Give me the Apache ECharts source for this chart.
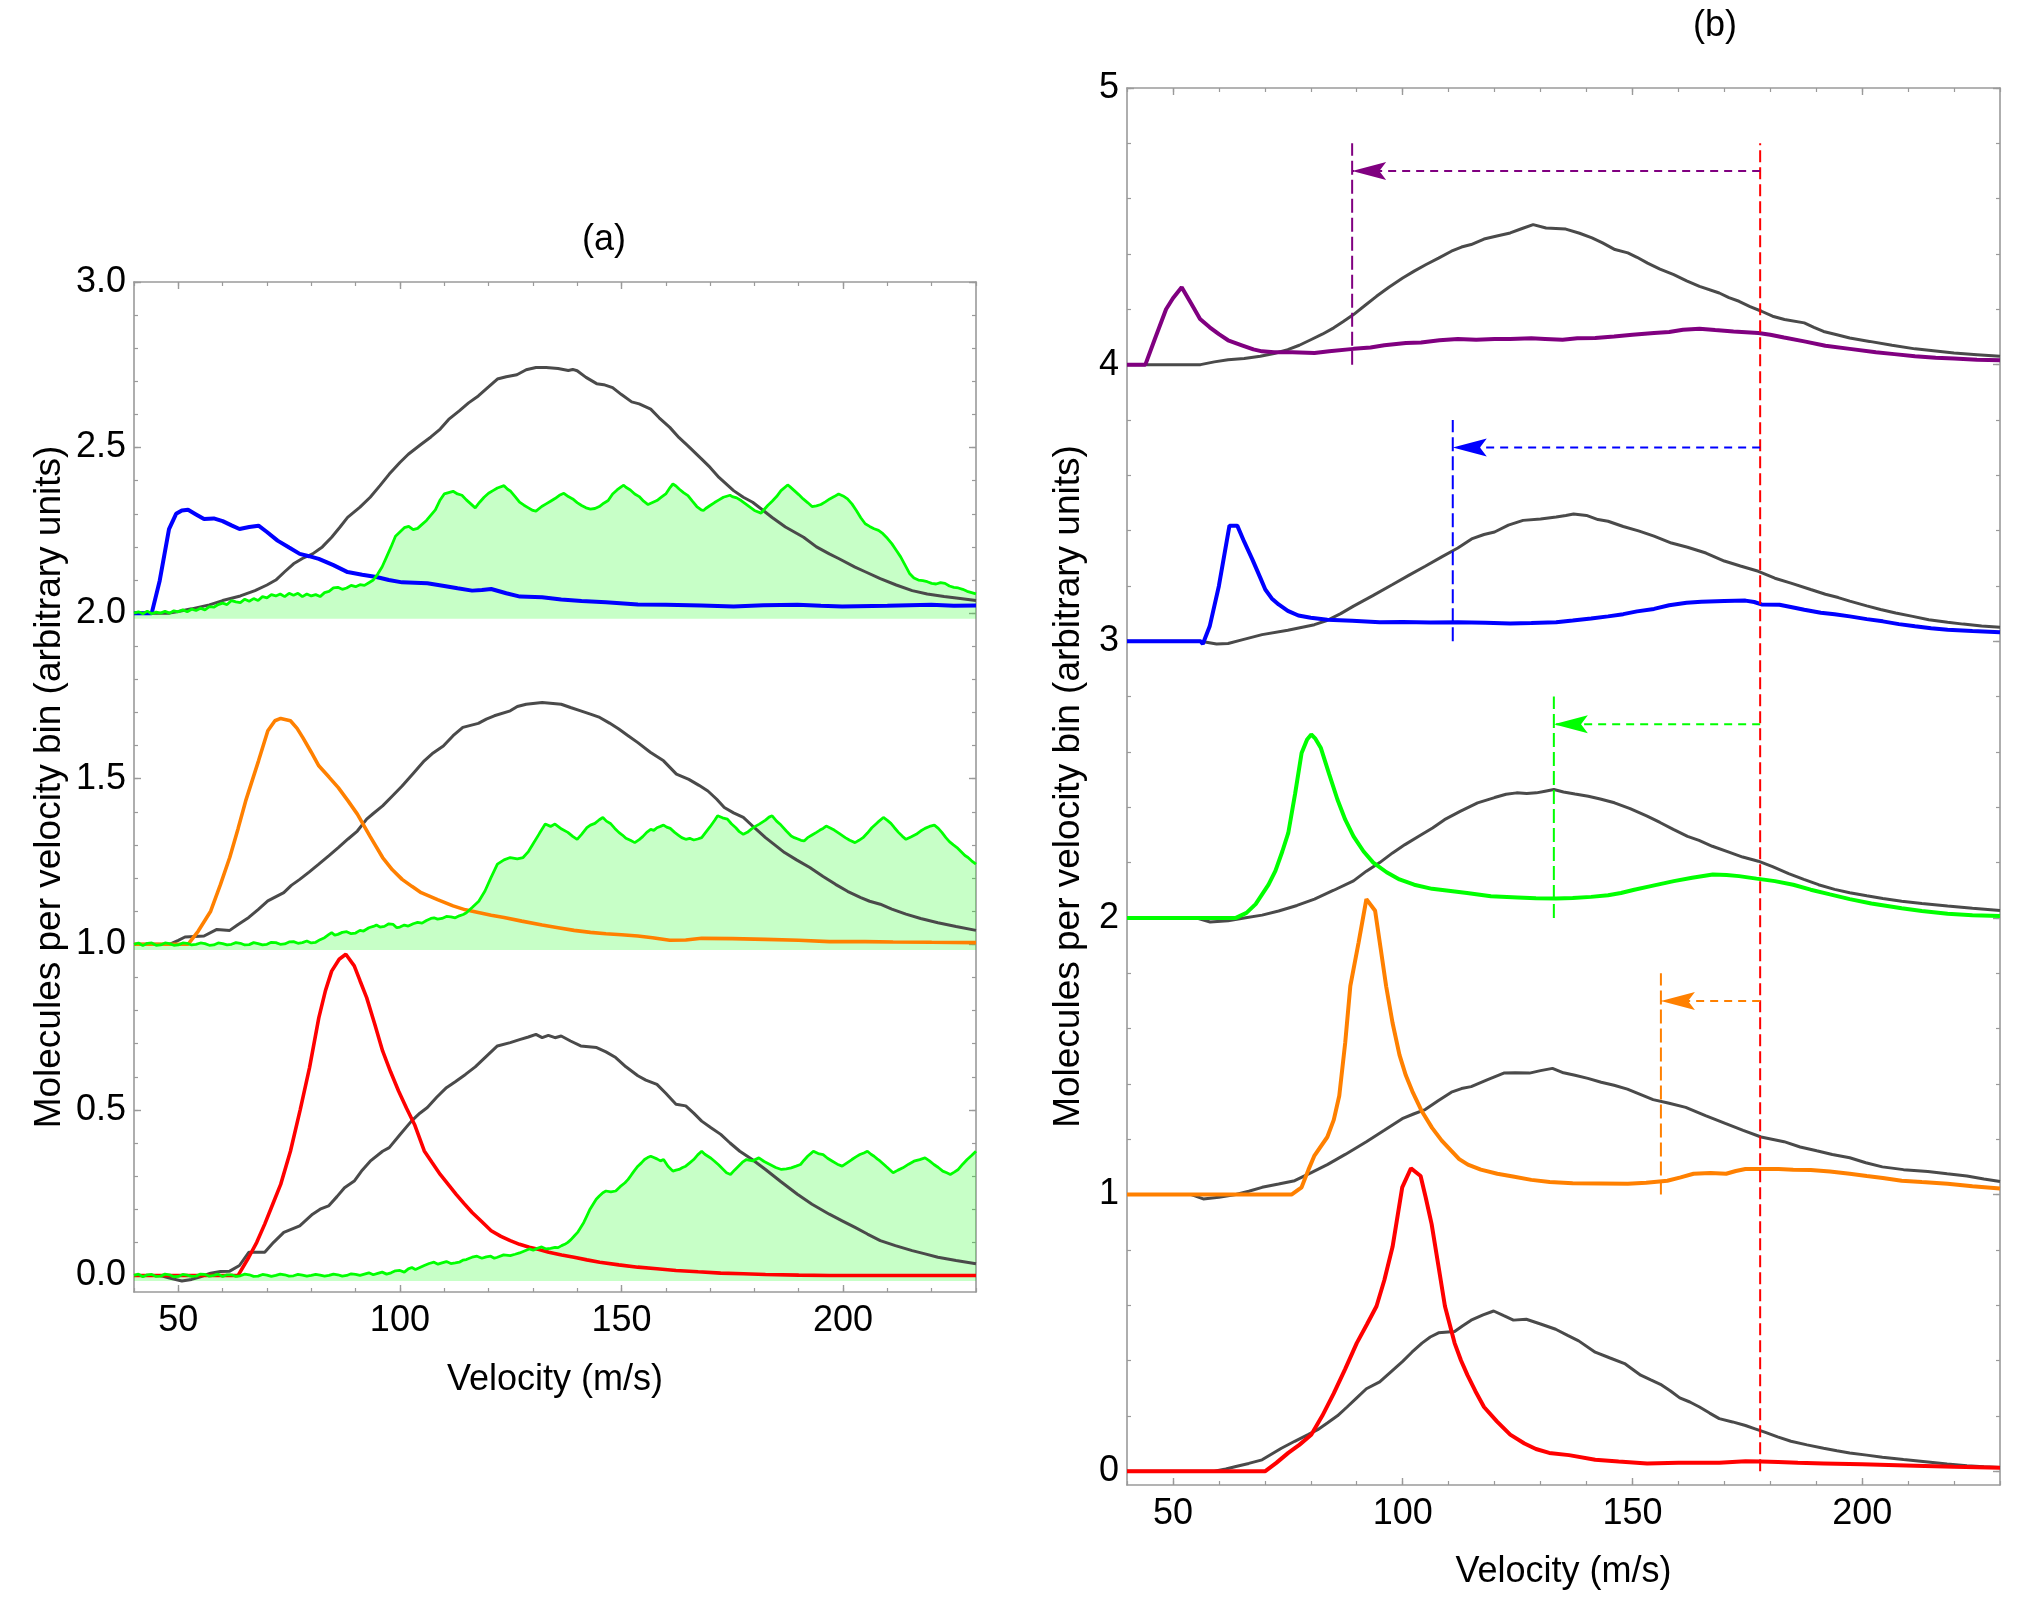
<!DOCTYPE html>
<html>
<head>
<meta charset="utf-8">
<title>Velocity distributions (a) and (b)</title>
<script src="https://cdn.jsdelivr.net/npm/echarts@6/dist/echarts.min.js"></script>
<style>
  html, body { margin: 0; padding: 0; background: #fff; }
  #chart { width: 2025px; height: 1600px; }
</style>
</head>
<body>
<div id="chart"></div>
<script>
// tick labels
const velTicks = [50, 100, 150, 200];
const aYTicks = [0, 0.5, 1, 1.5, 2, 2.5, 3];
const bYTicks = [0, 1, 2, 3, 4, 5];

// ---------- panel (a), three groups stacked at offsets 2, 1, 0 ----------
const aGray2 = [[40,2],[48,2],[50,2.005],[53,2.013],[57,2.025],[60,2.038],[64,2.052],[67.3,2.068],[70,2.085],[72,2.1],[74,2.125],[76,2.149],[78,2.165],[80.3,2.179],[82.5,2.2],[84.6,2.229],[86.5,2.26],[88.2,2.289],[91,2.32],[93.3,2.35],[95.5,2.385],[97.6,2.42],[100,2.455],[101.9,2.48],[104.8,2.51],[107,2.532],[109.1,2.556],[111,2.585],[113.4,2.611],[115.5,2.635],[117.7,2.656],[120,2.683],[122,2.707],[124,2.714],[126.4,2.72],[128.5,2.735],[130.7,2.742],[133,2.742],[135.7,2.739],[138,2.733],[139,2.736],[140,2.732],[142,2.712],[144.4,2.693],[146,2.69],[148,2.681],[150,2.66],[152.3,2.638],[154,2.632],[156.6,2.616],[158.5,2.59],[160.9,2.561],[163,2.53],[165,2.505],[168.1,2.465],[170,2.44],[172,2.41],[175.3,2.37],[177.5,2.35],[179.6,2.335],[182,2.31],[184,2.289],[187,2.26],[191.1,2.229],[194,2.2],[196.9,2.179],[199,2.165],[202.7,2.139],[205,2.125],[208.4,2.104],[212,2.085],[215.6,2.068],[219,2.058],[222.8,2.05],[226,2.045],[230,2.038]];
const aBlue = [[40,2],[44,2],[45.8,2.098],[47.9,2.254],[49.5,2.3],[50.8,2.31],[52.2,2.312],[54,2.298],[55.8,2.284],[58,2.286],[60,2.278],[62,2.265],[63.8,2.254],[66,2.26],[68.1,2.264],[70,2.245],[72.4,2.219],[75,2.198],[77.4,2.179],[79.5,2.172],[81.7,2.164],[85,2.145],[88.2,2.124],[91.5,2.116],[94.7,2.109],[97.5,2.1],[100.5,2.093],[106.2,2.09],[110,2.082],[113,2.075],[116.3,2.068],[118.5,2.07],[120.6,2.073],[124,2.06],[127.1,2.05],[132.1,2.048],[136.4,2.041],[141,2.037],[146.5,2.033],[153.7,2.026],[160,2.025],[168.1,2.023],[175.3,2.02],[182,2.024],[189.7,2.025],[195,2.022],[199.8,2.02],[210,2.022],[219.9,2.025],[225,2.022],[230,2.023]];
const aGreen2 = [[40,2.0],[41,2.004],[42,1.998],[43,2.006],[44,1.998],[45,2.003],[46,2.0],[47,2.006],[48,2.0],[49,2.007],[50,2.004],[51,2.01],[52,2.004],[53,2.012],[54,2.008],[55,2.015],[56,2.01],[57,2.02],[58,2.018],[59,2.026],[60,2.03],[61,2.026],[62,2.038],[63,2.034],[64,2.032],[65,2.042],[66,2.036],[67,2.044],[68,2.038],[69,2.05],[70,2.046],[71,2.056],[72,2.052],[73,2.058],[74,2.05],[75,2.06],[76,2.054],[77,2.06],[78,2.05],[79,2.058],[80,2.052],[81,2.056],[82,2.05],[83,2.062],[84,2.066],[85,2.076],[86,2.078],[87,2.072],[88,2.076],[89,2.084],[90,2.08],[91,2.086],[92,2.084],[93,2.092],[94,2.1],[95,2.118],[96,2.14],[97,2.17],[98,2.2],[99,2.232],[100,2.245],[101,2.258],[102,2.262],[103,2.252],[104,2.256],[105,2.268],[106,2.28],[107,2.296],[108,2.312],[109,2.34],[110,2.36],[111,2.364],[112,2.368],[113,2.36],[114,2.356],[115,2.342],[116,2.33],[117,2.318],[118,2.335],[119,2.35],[120,2.362],[121,2.37],[122,2.378],[123.5,2.385],[124.3,2.374],[125,2.368],[126,2.352],[127,2.335],[128,2.326],[129,2.318],[130,2.31],[130.7,2.308],[132,2.322],[133,2.33],[134,2.338],[135,2.346],[136,2.356],[137,2.362],[138,2.352],[139,2.345],[140,2.334],[141,2.325],[142,2.318],[143,2.314],[144,2.316],[145,2.322],[146,2.332],[147,2.34],[148,2.36],[149,2.372],[150,2.382],[150.5,2.386],[151,2.38],[152,2.372],[153,2.36],[154,2.352],[155,2.338],[156,2.328],[157,2.334],[158,2.34],[159,2.35],[160,2.36],[161,2.38],[161.6,2.39],[162.3,2.384],[163,2.375],[164,2.364],[165,2.355],[166,2.338],[167,2.322],[168,2.312],[168.5,2.31],[169,2.316],[170,2.325],[171,2.334],[172,2.342],[173,2.35],[174.5,2.356],[175,2.352],[176,2.348],[177,2.34],[178,2.33],[179,2.32],[180,2.31],[181.5,2.302],[182,2.31],[183,2.325],[184,2.338],[185,2.352],[186,2.37],[187.5,2.387],[188,2.382],[189,2.37],[190,2.358],[191,2.345],[192,2.334],[193,2.322],[194,2.324],[195,2.328],[196,2.336],[197,2.345],[198,2.352],[199,2.36],[200,2.354],[201,2.345],[202,2.33],[203,2.31],[204,2.288],[205,2.27],[206,2.262],[207,2.255],[208,2.25],[209,2.24],[210,2.226],[211,2.21],[212,2.19],[213,2.17],[214,2.145],[215,2.12],[216,2.106],[217,2.1],[218,2.098],[219,2.095],[220,2.09],[221,2.088],[222,2.092],[223,2.09],[224,2.082],[225,2.078],[226,2.076],[227,2.072],[228,2.066],[229,2.062],[230,2.058]];

const aGray1 = [[40,1],[48,1],[50,1.012],[51.5,1.022],[55.8,1.025],[58.7,1.045],[61.6,1.042],[63.5,1.06],[65.9,1.081],[68,1.105],[70.2,1.131],[73.8,1.156],[75.5,1.178],[77.4,1.196],[79.5,1.218],[81.7,1.242],[84,1.268],[86.1,1.292],[88.3,1.318],[90.4,1.342],[92.5,1.378],[94,1.395],[96.1,1.418],[98.3,1.448],[100.5,1.478],[103,1.516],[105.5,1.554],[107.5,1.578],[109.8,1.599],[112,1.63],[114.2,1.655],[117.7,1.667],[119.5,1.68],[121.3,1.69],[124.9,1.705],[126.5,1.718],[128.5,1.725],[132.1,1.73],[136.4,1.725],[138.5,1.715],[140.8,1.705],[143,1.695],[145.1,1.685],[147.3,1.668],[149.4,1.65],[151.5,1.63],[153.7,1.609],[156.5,1.58],[159.5,1.554],[162.4,1.514],[165.2,1.498],[167.5,1.48],[169.5,1.463],[171.5,1.438],[173.2,1.413],[175.3,1.397],[177.5,1.383],[180,1.352],[182.5,1.322],[184.8,1.298],[186.8,1.277],[189.5,1.255],[192.5,1.232],[195.5,1.205],[198.3,1.181],[201,1.16],[204,1.141],[206,1.13],[208.4,1.121],[211,1.106],[214.2,1.091],[217.5,1.078],[221.4,1.065],[225.5,1.054],[230,1.042]];
const aOrange = [[40,1],[52.2,1],[54.5,1.04],[57.3,1.1],[59.5,1.18],[61.6,1.262],[63.5,1.35],[65.2,1.433],[68.1,1.554],[70.2,1.645],[71.8,1.675],[73.1,1.682],[75.3,1.675],[76.8,1.652],[78.1,1.624],[80,1.58],[81.7,1.539],[84,1.505],[86.1,1.473],[88.3,1.433],[90.4,1.393],[93.3,1.325],[96.1,1.262],[98.3,1.225],[100.5,1.196],[102.7,1.175],[104.8,1.156],[108.5,1.135],[112,1.116],[114.8,1.104],[117.7,1.096],[120.6,1.088],[123.5,1.081],[127.5,1.07],[132.1,1.058],[135.7,1.05],[139.3,1.042],[143,1.036],[146.5,1.032],[150,1.029],[153.7,1.025],[157,1.02],[160.9,1.012],[164.5,1.013],[168.1,1.018],[175,1.017],[182.5,1.015],[190,1.012],[196.9,1.008],[205,1.008],[211.3,1.007],[220,1.006],[230,1.005]];
const aGreen1 = [[40,1.0],[41,1.004],[42,0.996],[43,1.003],[44,1.004],[45,0.997],[46,0.998],[47,1.004],[48,1.002],[49,0.997],[50,0.998],[51,1.004],[52,1.003],[53,0.998],[54,1.0],[55,1.004],[56,1.002],[57,0.997],[58,0.998],[59,1.004],[60,1.002],[61,0.998],[62,1.0],[63,1.005],[64,1.003],[65,0.998],[66,0.999],[67,1.005],[68,1.002],[69,0.998],[70,1.0],[71,1.006],[72,1.005],[73,1.0],[74,1.001],[75,1.007],[76,1.008],[77,1.003],[78,1.005],[79,1.01],[80,1.004],[81,1.006],[82,1.014],[83,1.02],[84,1.03],[84.6,1.035],[85.3,1.028],[86,1.03],[87,1.036],[88,1.038],[89,1.032],[90,1.034],[91,1.042],[91.8,1.04],[93,1.05],[94,1.054],[94.7,1.058],[95.5,1.052],[96.5,1.054],[97.5,1.062],[98.5,1.06],[99.3,1.05],[100,1.052],[101,1.058],[101.9,1.055],[103,1.062],[104,1.066],[105,1.064],[106,1.072],[107,1.078],[107.7,1.08],[108.5,1.076],[109.5,1.078],[110.5,1.084],[111.5,1.083],[112.5,1.08],[113.4,1.086],[114.3,1.09],[115,1.095],[116.3,1.111],[117.8,1.13],[119.2,1.161],[120.5,1.2],[122,1.242],[123.5,1.255],[124.9,1.262],[126.5,1.258],[127.8,1.262],[129,1.28],[130,1.302],[131.5,1.335],[132.8,1.363],[134,1.356],[135,1.363],[136.5,1.348],[137.9,1.338],[139,1.326],[140,1.317],[141,1.332],[142.2,1.352],[143,1.36],[144,1.365],[145,1.376],[145.8,1.383],[146.6,1.372],[147.5,1.365],[148.5,1.35],[149.4,1.338],[150.2,1.33],[151,1.32],[152,1.314],[153,1.307],[154,1.316],[154.8,1.325],[155.7,1.338],[156.6,1.347],[157.3,1.344],[158,1.352],[158.8,1.356],[159.5,1.36],[160.2,1.354],[161,1.35],[162,1.338],[162.8,1.33],[163.6,1.322],[164.5,1.317],[165.4,1.32],[166.3,1.315],[167.2,1.318],[168.1,1.322],[169,1.338],[170,1.355],[171,1.374],[171.7,1.388],[172.8,1.382],[173.9,1.378],[174.8,1.364],[175.8,1.352],[176.6,1.34],[177.5,1.332],[178.4,1.338],[179.3,1.348],[180.2,1.356],[181.1,1.363],[182.5,1.375],[183.3,1.384],[184,1.388],[185,1.372],[186,1.36],[187.2,1.342],[188.3,1.327],[189,1.322],[189.8,1.318],[190.5,1.314],[191.2,1.312],[192,1.322],[193,1.33],[194,1.338],[194.8,1.345],[195.5,1.35],[196.2,1.357],[197,1.352],[198,1.345],[199.2,1.334],[200.5,1.322],[201.5,1.314],[202.7,1.307],[203.6,1.314],[204.5,1.322],[205.5,1.336],[206.5,1.352],[207.8,1.368],[209.1,1.383],[210,1.374],[210.8,1.365],[211.6,1.352],[212.5,1.338],[213.4,1.326],[214.2,1.317],[215.3,1.324],[216.5,1.332],[217.5,1.342],[218.5,1.35],[219.5,1.356],[220.6,1.36],[221.5,1.35],[222.3,1.338],[223.2,1.322],[224,1.31],[224.9,1.3],[225.7,1.292],[226.6,1.28],[227.5,1.268],[228.2,1.262],[229,1.252],[230,1.242]];

const aGray0 = [[40,0],[46,0],[48,-0.008],[50.8,-0.017],[53,-0.012],[55,-0.004],[57.3,0.007],[59.5,0.012],[61.6,0.013],[63.8,0.03],[65.9,0.07],[69.5,0.07],[71.5,0.1],[73.8,0.13],[77.4,0.15],[80.3,0.185],[82,0.2],[83.9,0.21],[85.8,0.238],[87.5,0.265],[89.7,0.285],[91.5,0.318],[93.3,0.345],[96.1,0.375],[97.6,0.386],[100,0.425],[102.6,0.466],[104.5,0.49],[106.2,0.507],[108.3,0.538],[110.5,0.567],[112.5,0.585],[114.8,0.607],[117,0.63],[119.2,0.658],[122,0.693],[124.9,0.703],[127,0.712],[129,0.72],[130.7,0.728],[132.1,0.718],[133.5,0.725],[135,0.718],[136.4,0.723],[138.5,0.708],[140.8,0.693],[144.4,0.688],[146.5,0.675],[148.7,0.658],[151,0.63],[153.7,0.603],[155.5,0.59],[158,0.577],[160,0.55],[162.3,0.517],[164.5,0.512],[166.3,0.49],[168.1,0.466],[170.2,0.446],[172.4,0.426],[174.5,0.4],[176.7,0.375],[179.5,0.35],[182.5,0.32],[186,0.283],[189.7,0.245],[193,0.215],[196.9,0.185],[199.8,0.165],[202.7,0.145],[205.5,0.125],[208.4,0.105],[211.8,0.09],[215.6,0.075],[218.5,0.065],[221.4,0.055],[225.5,0.045],[230,0.035]];
const aRed = [[40,0],[63.5,0],[65.9,0.055],[67.7,0.1],[69.5,0.155],[71.3,0.215],[73.1,0.275],[75.3,0.375],[77.5,0.5],[79.6,0.627],[81.7,0.778],[83.2,0.86],[84.6,0.919],[86.3,0.955],[87.8,0.97],[89.7,0.935],[91,0.89],[92.5,0.839],[94.3,0.76],[96.1,0.678],[97.9,0.615],[99.7,0.557],[101.5,0.505],[103.3,0.456],[105.5,0.376],[107.3,0.34],[109.1,0.305],[110.9,0.275],[112.7,0.245],[114.5,0.217],[116.3,0.19],[118.5,0.162],[120.6,0.135],[122.8,0.118],[124.9,0.105],[127,0.094],[129.2,0.085],[131.4,0.078],[133.6,0.07],[136.5,0.062],[139.3,0.055],[142.2,0.047],[145.1,0.04],[149.4,0.032],[153.7,0.025],[158,0.02],[162.3,0.015],[167.3,0.011],[172.4,0.007],[177.5,0.005],[182.5,0.003],[190,0.001],[196.9,0],[230,0]];
const aGreen0 = [[40,0.0],[41,0.004],[42,-0.004],[43,0.002],[44,0.003],[45,-0.003],[46,-0.002],[47,0.004],[48,0.002],[49,-0.004],[50,-0.003],[51,0.003],[52,0.001],[53,-0.003],[54,-0.002],[55,0.004],[56,0.003],[57,-0.002],[58,0],[59,0.004],[60,-0.003],[61,0.002],[62,0.002],[63,-0.003],[64,-0.001],[65,0.004],[66,0.002],[67,-0.003],[68,-0.002],[69,0.003],[70,0.001],[71,-0.003],[72,0],[73,0.004],[74,0.002],[75,-0.002],[76,-0.001],[77,0.003],[78,0.001],[79,-0.002],[80,0],[81,0.003],[82,0.001],[83,-0.002],[84,0],[85,0.004],[86,0.002],[87,-0.002],[88,0],[89,0.005],[90,0.003],[91,0.0],[92,0.004],[93,0.008],[94,0.002],[95,0.006],[96,0.01],[97,0.004],[98,0.008],[99,0.014],[100,0.015],[101,0.01],[101.9,0.02],[102.7,0.024],[103.5,0.018],[104.5,0.024],[105.5,0.03],[106.6,0.036],[107.7,0.04],[108.6,0.034],[109.5,0.038],[110.5,0.042],[111.5,0.036],[112.5,0.038],[113.4,0.04],[114.2,0.046],[115,0.048],[115.7,0.052],[116.3,0.055],[117.4,0.058],[118.5,0.052],[119.5,0.056],[120.5,0.058],[121.3,0.052],[122,0.055],[123.4,0.062],[124.9,0.06],[126,0.064],[127,0.068],[128.1,0.074],[129.2,0.08],[130.1,0.076],[131,0.082],[132,0.086],[133,0.08],[134,0.082],[135,0.085],[135.7,0.084],[136.5,0.09],[137.2,0.094],[137.9,0.1],[138.6,0.108],[139.4,0.12],[140.1,0.13],[140.8,0.145],[141.5,0.16],[142.2,0.18],[142.9,0.2],[143.6,0.215],[144.3,0.23],[145,0.24],[145.8,0.25],[146.5,0.255],[147.6,0.252],[148.7,0.255],[149.7,0.268],[150.8,0.28],[151.5,0.29],[152.3,0.305],[153,0.318],[153.7,0.33],[154.5,0.34],[155.2,0.35],[155.9,0.356],[156.6,0.36],[157.3,0.356],[158,0.352],[158.8,0.346],[159.5,0.35],[160.5,0.33],[161.6,0.315],[162.3,0.318],[163,0.32],[163.8,0.326],[164.5,0.33],[165.4,0.34],[166.3,0.35],[167.2,0.364],[168.1,0.375],[168.8,0.366],[169.5,0.36],[170.2,0.354],[171,0.345],[171.9,0.334],[172.8,0.322],[173.7,0.31],[174.6,0.305],[175.5,0.318],[176.4,0.33],[177.3,0.342],[178.2,0.35],[179.6,0.346],[181,0.355],[182.2,0.344],[183.5,0.335],[184.8,0.326],[186.1,0.32],[187.2,0.322],[188.3,0.325],[189.4,0.33],[190.4,0.335],[191.2,0.348],[192,0.36],[192.7,0.368],[193.3,0.375],[194.4,0.368],[195.5,0.365],[196.5,0.354],[197.6,0.345],[198.7,0.336],[199.8,0.33],[200.9,0.34],[202,0.35],[202.9,0.358],[203.8,0.365],[204.7,0.37],[205.5,0.375],[206.3,0.366],[207,0.36],[207.7,0.352],[208.4,0.345],[209.8,0.328],[211.3,0.31],[212.4,0.318],[213.5,0.325],[214.8,0.336],[216,0.345],[217.3,0.35],[218.5,0.355],[219.5,0.346],[220.5,0.335],[221.5,0.326],[222.5,0.315],[223.4,0.31],[224.2,0.305],[225.1,0.312],[226,0.32],[227,0.336],[228,0.35],[229,0.362],[230,0.375]];

// ---------- panel (b), five groups stacked at offsets 4..0 ----------
const bGray4 = [[40,4],[56,4],[59,4.01],[62,4.018],[65.5,4.022],[69,4.03],[72,4.04],[75,4.054],[77.5,4.07],[80,4.09],[82.5,4.11],[85,4.133],[87,4.155],[89.3,4.181],[91.5,4.21],[94.3,4.247],[97,4.28],[100,4.313],[102.5,4.338],[105,4.361],[107.8,4.385],[110.6,4.41],[112.8,4.425],[114.9,4.434],[117.7,4.454],[120.5,4.465],[123.4,4.476],[126,4.492],[128.4,4.506],[131.2,4.494],[135.5,4.49],[138.5,4.475],[141.2,4.458],[143.5,4.44],[146.2,4.416],[149,4.404],[151,4.388],[153.3,4.367],[156,4.345],[159,4.325],[161.8,4.303],[164.6,4.283],[168.9,4.259],[171,4.242],[173.2,4.229],[175.6,4.21],[178.1,4.193],[180.5,4.175],[183.1,4.163],[187.4,4.151],[189.5,4.135],[191.6,4.12],[194.5,4.108],[197.3,4.096],[201.6,4.084],[206.5,4.07],[211.5,4.057],[215.5,4.05],[220,4.042],[225,4.036],[230,4.03]];
const bPurple = [[40,4],[44,4],[46,4.09],[48.5,4.2],[50,4.24],[51.9,4.28],[54,4.22],[55.9,4.165],[58,4.135],[60,4.11],[62,4.088],[65,4.07],[67.5,4.055],[69.4,4.048],[72,4.045],[76,4.045],[80.8,4.042],[84,4.048],[89.3,4.057],[93,4.062],[96,4.07],[100.7,4.078],[104,4.08],[108,4.088],[112,4.093],[116,4.09],[120,4.093],[123.4,4.093],[128,4.095],[131,4.093],[134.8,4.09],[138,4.095],[141.9,4.096],[146,4.102],[150,4.108],[154.7,4.114],[158,4.118],[161,4.126],[164.6,4.13],[168,4.125],[172,4.12],[177.4,4.114],[180,4.108],[183,4.098],[187.4,4.084],[192,4.068],[197.3,4.057],[203,4.045],[207,4.038],[211.5,4.03],[216,4.025],[220,4.022],[225,4.018],[230,4.016]];
const bGray3 = [[40,3],[56,3],[59.5,2.99],[62,2.992],[65,3.005],[69.4,3.024],[75,3.04],[80.8,3.06],[83.5,3.075],[86.5,3.1],[89.3,3.127],[93.5,3.165],[97.8,3.205],[101.5,3.24],[104.9,3.271],[108.5,3.305],[112,3.337],[115,3.37],[117.7,3.386],[120,3.395],[123,3.42],[126.2,3.437],[130,3.442],[133.4,3.449],[135.5,3.455],[137.2,3.46],[140,3.455],[142.5,3.44],[144.7,3.434],[148,3.415],[151.5,3.398],[154.7,3.38],[158.5,3.355],[162,3.34],[166,3.319],[170,3.29],[173.5,3.272],[177.4,3.253],[181,3.228],[184.5,3.21],[188.8,3.187],[192,3.17],[194.8,3.158],[197.3,3.145],[201,3.128],[204,3.115],[207.3,3.102],[211,3.09],[214.5,3.078],[218.6,3.069],[222,3.062],[226,3.055],[230,3.051]];
const bBlue = [[40,3],[56,3],[56.5,2.99],[58,3.054],[60,3.2],[62.3,3.418],[64,3.418],[65.5,3.36],[67.3,3.295],[69,3.23],[70.1,3.187],[71.5,3.155],[73,3.133],[75,3.11],[77.3,3.093],[80,3.085],[83.6,3.078],[89,3.074],[95,3.069],[100,3.07],[106,3.068],[112,3.069],[118,3.067],[123.4,3.064],[128,3.066],[133.4,3.069],[137,3.075],[141,3.082],[144.7,3.09],[148,3.098],[151,3.108],[154.7,3.117],[158,3.13],[161.8,3.139],[165,3.143],[170,3.146],[174.6,3.147],[176.5,3.142],[178.1,3.133],[182,3.132],[185,3.122],[187.4,3.114],[191,3.103],[194,3.098],[197.3,3.09],[201,3.08],[204.5,3.072],[208,3.062],[211.5,3.054],[215,3.047],[218.6,3.042],[224,3.037],[230,3.033]];
const bGray2 = [[40,2],[55,2],[58.1,1.985],[62,1.99],[65.5,2.0],[69.4,2.01],[73,2.025],[77,2.045],[80.8,2.068],[85,2.1],[89.3,2.134],[92.1,2.169],[95,2.2],[97.8,2.235],[100.5,2.265],[103.5,2.295],[106.5,2.325],[109.1,2.355],[112.5,2.385],[116.3,2.416],[120,2.435],[122.5,2.447],[124.8,2.452],[127,2.45],[129.1,2.452],[131,2.458],[132.9,2.464],[135,2.455],[137.5,2.448],[140.4,2.44],[143,2.43],[146.1,2.416],[149.5,2.395],[153.2,2.368],[156,2.345],[158.9,2.32],[162,2.295],[164.5,2.28],[167.4,2.259],[171,2.238],[174,2.22],[177.4,2.205],[180.5,2.185],[184,2.16],[187.3,2.139],[190.5,2.12],[194,2.103],[197.3,2.091],[201,2.08],[204.5,2.07],[208.6,2.06],[213,2.052],[218.6,2.043],[224,2.035],[230,2.027]];
const bGreen = [[40,2],[63.7,2],[66,2.018],[68,2.05],[69.4,2.085],[70.8,2.12],[72.3,2.17],[73.8,2.24],[75.1,2.307],[76.6,2.45],[78,2.596],[79.2,2.645],[80.1,2.663],[81,2.648],[82.2,2.614],[84,2.52],[85.8,2.428],[87.5,2.355],[89.3,2.295],[91.5,2.24],[93.6,2.2],[96.5,2.165],[99.3,2.139],[102.5,2.12],[106.4,2.105],[110,2.098],[114,2.09],[119.2,2.078],[125,2.074],[129,2.071],[133.4,2.07],[137,2.072],[141,2.076],[144.7,2.082],[147.5,2.09],[150.4,2.102],[154,2.115],[159,2.133],[163,2.145],[167.5,2.157],[170.5,2.155],[173.2,2.151],[177,2.142],[181,2.133],[185,2.12],[188.8,2.102],[193,2.085],[197.3,2.068],[202,2.052],[208.6,2.035],[213,2.025],[218.6,2.015],[224,2.01],[230,2.007]];
const bGray1 = [[40,1],[54,1],[56.6,0.984],[60,0.99],[63.7,1.0],[66.5,1.012],[69.4,1.026],[73,1.038],[76.5,1.05],[80,1.078],[83.6,1.108],[87.5,1.145],[92.1,1.191],[96,1.232],[99.9,1.274],[102.5,1.292],[104.9,1.307],[107.8,1.34],[110.6,1.37],[112.8,1.383],[114.9,1.39],[118.5,1.415],[122,1.439],[124.5,1.44],[127.6,1.439],[130,1.448],[132.6,1.456],[135,1.44],[137.5,1.431],[140.3,1.42],[143.2,1.406],[146,1.395],[148.9,1.381],[151.7,1.362],[154.5,1.343],[158,1.33],[161.6,1.315],[165.9,1.285],[170.2,1.257],[174.1,1.232],[178,1.208],[183,1.191],[186.5,1.172],[190.1,1.158],[193.5,1.145],[197.3,1.133],[200.8,1.115],[204.4,1.1],[209,1.09],[214.3,1.083],[218.5,1.075],[222.8,1.067],[226.5,1.056],[230,1.047]];
const bOrange = [[40,1],[75.8,1],[78,1.026],[79.5,1.09],[80.8,1.141],[83.6,1.208],[85,1.27],[86.2,1.357],[87.5,1.55],[88.6,1.753],[90.4,1.911],[92.1,2.068],[94,2.026],[95.2,1.89],[96.4,1.753],[97.8,1.62],[99.3,1.505],[100.7,1.43],[102.1,1.373],[104.2,1.3],[106.4,1.241],[108.5,1.195],[110.6,1.158],[112.3,1.128],[114.2,1.108],[117,1.09],[120.6,1.075],[124,1.065],[128,1.053],[132,1.045],[137,1.041],[143,1.04],[149,1.039],[153,1.043],[157.6,1.05],[160.5,1.062],[163.3,1.075],[167,1.078],[170.4,1.075],[172.5,1.085],[174.6,1.092],[178,1.092],[181.8,1.092],[185,1.09],[188.8,1.089],[193,1.083],[197.3,1.075],[201,1.067],[204.5,1.06],[208.6,1.05],[213,1.045],[218.6,1.039],[224,1.03],[230,1.022]];
const bGray0 = [[40,0],[59,0],[61.5,0.008],[63.7,0.017],[66.5,0.028],[69.4,0.041],[71.5,0.062],[73.6,0.083],[76.5,0.108],[79.4,0.132],[81.5,0.15],[83.6,0.174],[85.8,0.2],[87.9,0.232],[90,0.265],[92.1,0.298],[95,0.323],[97.5,0.36],[100,0.397],[102,0.43],[104.2,0.463],[106,0.485],[107.8,0.5],[111.3,0.505],[113,0.525],[114.9,0.546],[117.5,0.565],[119.8,0.579],[122,0.562],[124.1,0.546],[126.9,0.549],[130,0.532],[133.3,0.513],[136,0.49],[138.3,0.471],[141.9,0.43],[145,0.41],[148.3,0.389],[151.8,0.347],[154,0.33],[156.1,0.314],[158.3,0.29],[160.3,0.265],[162.5,0.25],[164.6,0.232],[166.8,0.21],[168.9,0.19],[171.8,0.178],[174.6,0.165],[176.7,0.153],[178.8,0.141],[181.6,0.124],[184.5,0.108],[188,0.095],[191.6,0.083],[194.5,0.074],[197.3,0.066],[201,0.058],[204.4,0.05],[209,0.042],[214.3,0.033],[218.5,0.026],[222.8,0.02],[226.5,0.016],[230,0.013]];
const bRed = [[40,0],[70.1,0],[72.5,0.03],[75.1,0.066],[77.5,0.095],[80.1,0.132],[82.5,0.2],[85,0.281],[87.5,0.37],[90,0.463],[92.2,0.53],[94.3,0.596],[96,0.69],[97.8,0.811],[99.9,1.026],[101.8,1.095],[103.9,1.067],[105,0.99],[106.3,0.893],[107.8,0.74],[109.2,0.596],[111.3,0.463],[112.7,0.4],[114.1,0.347],[115.8,0.29],[117.7,0.232],[120.5,0.18],[123.4,0.132],[126.5,0.1],[129,0.08],[131.9,0.066],[136.2,0.058],[141.9,0.041],[147,0.035],[153.2,0.028],[160,0.03],[168.9,0.03],[174.6,0.036],[178,0.035],[181.7,0.033],[186,0.03],[191.6,0.028],[200,0.025],[211.5,0.02],[220,0.016],[230,0.012]];

// velocity-shift markers in (b): cutoff of the red distribution and the shifted cutoffs
const cutoffVel = 177.8;
const cutoffSpan = [0, 4.8];
const shiftVel = [89, 110.9, 132.9, 156.2];
const shiftBase = [4, 3, 2, 1];
const shiftTop = [4.8, 3.8, 2.8, 1.8];
const arrowLevel = [4.7, 3.7, 2.7, 1.7];

// ---------- styling ----------
const FONT = "'Liberation Sans', Arial, Helvetica, sans-serif";
const FRAME = '#9a9a9a';
const GRAY = '#4a4a4a';
const shiftColors = ['#800080', '#0000ff', '#00ff00', '#ff8000'];

function range(a, b, step) {
  const out = [];
  for (let v = a; v <= b + 1e-9; v += step) out.push(+v.toFixed(4));
  return out;
}

// per side: main axis (frame line, major ticks, labels) + a minor-tick axis; then the opposite side
function frameAxes(grid, isX, min, max, majors, minors, opt) {
  const sides = isX ? ['bottom', 'top'] : ['left', 'right'];
  const axes = [];
  sides.forEach(function (pos, si) {
    const main = {
      type: 'value', gridIndex: grid, position: pos, min: min, max: max,
      splitLine: { show: false },
      axisLine: { show: true, onZero: false, lineStyle: { color: FRAME, width: 1.6 } },
      axisTick: { show: true, inside: true, length: 7, customValues: majors, lineStyle: { color: FRAME, width: 1.4 } },
      axisLabel: { show: false }
    };
    if (si === 0) {
      main.axisLabel = { show: true, customValues: majors, formatter: opt.fmt, fontFamily: FONT, fontSize: 36, color: '#000', margin: isX ? 11 : 8 };
      main.name = opt.name;
      main.nameLocation = 'middle';
      main.nameGap = opt.gap;
      main.nameTextStyle = { fontFamily: FONT, fontSize: opt.nameSize, color: '#000' };
    }
    axes.push(main);
    axes.push({
      type: 'value', gridIndex: grid, position: pos, min: min, max: max,
      splitLine: { show: false },
      axisLine: { show: false, onZero: false },
      axisTick: { show: true, inside: true, length: 4, customValues: minors, lineStyle: { color: FRAME, width: 1.2 } },
      axisLabel: { show: false }
    });
  });
  return axes;
}

const xMinor = range(40, 230, 10);
const xAxes = []
  .concat(frameAxes(0, true, 40, 230, velTicks, xMinor, { name: 'Velocity (m/s)', gap: 70, nameSize: 36, fmt: v => String(v) }))
  .concat(frameAxes(1, true, 40, 230, velTicks, xMinor, { name: 'Velocity (m/s)', gap: 69, nameSize: 36, fmt: v => String(v) }));
const yAxes = []
  .concat(frameAxes(0, false, -0.05, 3, aYTicks, range(0, 3, 0.1), { name: 'Molecules per velocity bin (arbitrary units)', gap: 66, nameSize: 37, fmt: v => v.toFixed(1) }))
  .concat(frameAxes(1, false, -0.05, 5, bYTicks, range(0, 5, 0.2), { name: 'Molecules per velocity bin (arbitrary units)', gap: 40, nameSize: 37, fmt: v => String(v) }));

function line(grid, data, color, width, extra) {
  return Object.assign({
    type: 'line', xAxisIndex: grid * 4, yAxisIndex: grid * 4, data: data,
    symbol: 'none', showSymbol: false, silent: true, animation: false,
    emphasis: { disabled: true },
    lineStyle: { color: color, width: width }, itemStyle: { color: color }
  }, extra || {});
}

function greenFill(data, base) {
  return line(0, data, '#00ff00', 2.8, {
    areaStyle: { color: 'rgba(0,255,0,0.22)', origin: base - 0.017, opacity: 1 }
  });
}

function dashed(data, color, dash) {
  return line(1, data, color, 2, { lineStyle: { color: color, width: 2, type: dash } });
}

const series = [
  // (a)
  line(0, aGray2, GRAY, 3), line(0, aGray1, GRAY, 3), line(0, aGray0, GRAY, 3),
  line(0, aBlue, '#0000ff', 4), line(0, aOrange, '#ff8000', 3.6), line(0, aRed, '#ff0000', 3.6),
  greenFill(aGreen2, 2), greenFill(aGreen1, 1), greenFill(aGreen0, 0),
  // (b)
  line(1, bGray4, GRAY, 3), line(1, bGray3, GRAY, 3), line(1, bGray2, GRAY, 3), line(1, bGray1, GRAY, 3), line(1, bGray0, GRAY, 3),
  line(1, bPurple, '#800080', 4), line(1, bBlue, '#0000ff', 4), line(1, bGreen, '#00ff00', 4), line(1, bOrange, '#ff8000', 4), line(1, bRed, '#ff0000', 4),
  dashed([[cutoffVel, cutoffSpan[0]], [cutoffVel, cutoffSpan[1]]], '#ff0000', [12, 5])
];

shiftVel.forEach(function (v, i) {
  const c = shiftColors[i];
  series.push(dashed([[v, shiftBase[i]], [v, shiftTop[i]]], c, [14, 5]));
  series.push(dashed([[cutoffVel, arrowLevel[i]], [v, arrowLevel[i]]], c, [8, 6]));
});

// arrowheads: tip sits on the shifted cutoff, pointing toward lower velocity
series.push({
  type: 'custom', xAxisIndex: 4, yAxisIndex: 4, silent: true, animation: false, z: 5,
  data: shiftVel.map(function (v, i) { return [v, arrowLevel[i], i]; }),
  renderItem: function (params, api) {
    const p = api.coord([api.value(0), api.value(1)]);
    const L = 34, W = 18;
    return {
      type: 'polygon',
      shape: { points: [[p[0], p[1]], [p[0] + L, p[1] - W / 2], [p[0] + 0.8 * L, p[1]], [p[0] + L, p[1] + W / 2]] },
      style: { fill: shiftColors[api.value(2)] }
    };
  }
});

const chart = echarts.init(document.getElementById('chart'), null, { renderer: 'canvas' });
chart.setOption({
  backgroundColor: '#ffffff',
  animation: false,
  grid: [
    { left: 134, top: 282, width: 842, height: 1010 },
    { left: 1127, top: 88, width: 873, height: 1397 }
  ],
  xAxis: xAxes,
  yAxis: yAxes,
  graphic: [
    { type: 'text', x: 604, y: 240, silent: true, style: { text: '(a)', fontFamily: FONT, fontSize: 36, fill: '#000', align: 'center', verticalAlign: 'middle', textAlign: 'center', textVerticalAlign: 'middle' } },
    { type: 'text', x: 1715, y: 26, silent: true, style: { text: '(b)', fontFamily: FONT, fontSize: 36, fill: '#000', align: 'center', verticalAlign: 'middle', textAlign: 'center', textVerticalAlign: 'middle' } }
  ],
  series: series
});
</script>
</body>
</html>
